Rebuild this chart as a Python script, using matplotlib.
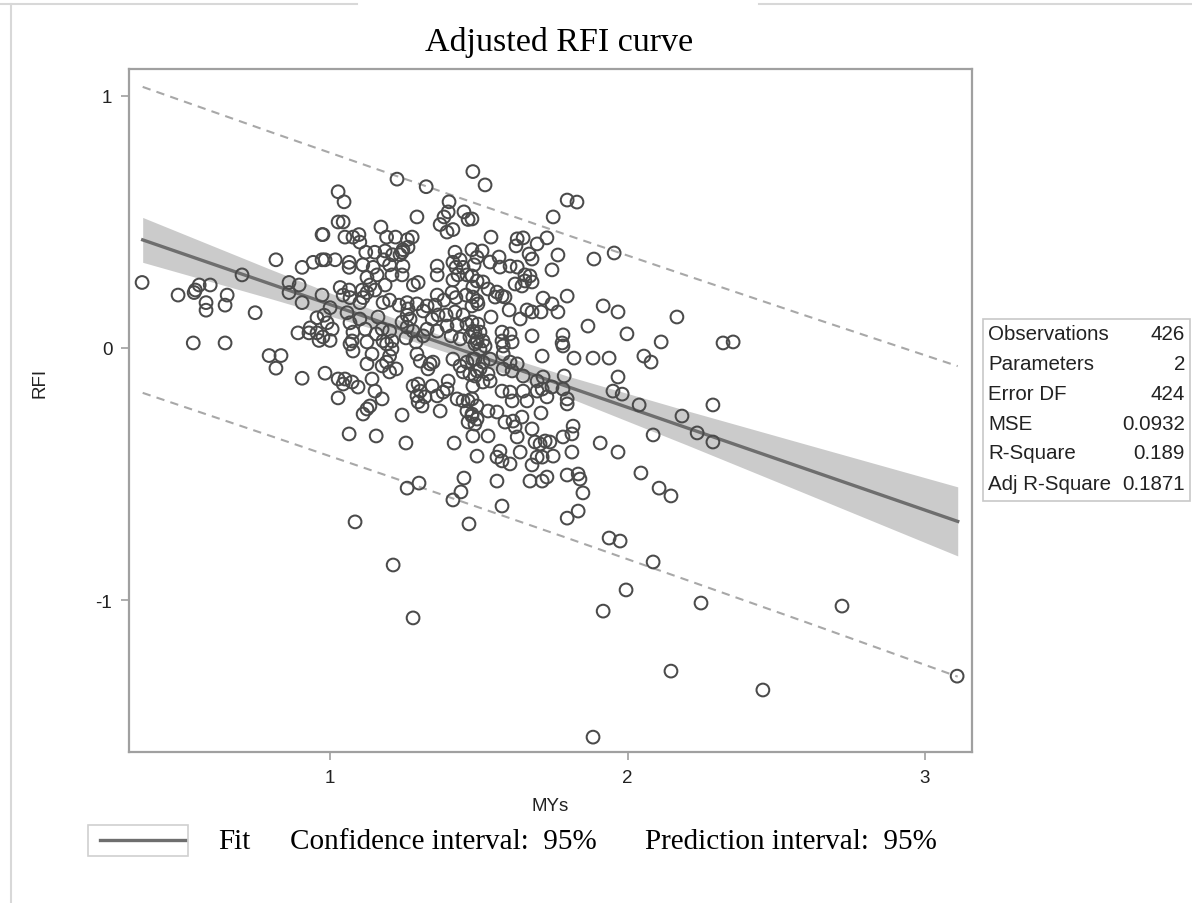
import matplotlib
matplotlib.use("Agg")
import matplotlib.pyplot as plt
from matplotlib.patches import Rectangle
from matplotlib.lines import Line2D

# --------- data ---------
mys = [0.368, 0.489, 0.543, 0.56, 0.547, 0.597, 0.583, 0.583, 0.654, 0.647, 0.704, 0.748, 0.54, 0.647, 0.818,
       0.795, 0.835, 0.818, 0.862, 0.896, 0.862, 0.906, 0.943, 0.973, 0.973, 0.906, 0.973, 0.956, 0.98, 0.892,
       0.929, 0.956, 0.963, 0.933, 0.906, 0.983,
       1.225, 1.323, 1.48, 1.027, 1.047, 1.027, 1.044, 0.976, 1.171, 1.292, 1.40, 1.397, 1.383, 1.37, 1.393,
       1.413, 1.45, 1.464, 1.05, 1.077, 1.097, 1.10, 1.19, 1.22, 1.26, 1.276, 1.262, 1.245, 1.242, 0.983, 1.017,
       1.064, 1.064, 1.12, 1.15, 1.185, 1.21, 1.235, 1.11, 1.145, 1.18, 1.20, 1.245, 1.242, 1.124, 1.158, 1.208,
       1.28, 1.296, 1.36, 1.36, 1.42, 1.437, 1.413, 1.423, 1.447, 1.46, 1.43, 1.413, 1.477, 1.494, 1.484, 1.034,
       1.064, 1.044, 1.067, 1.108, 1.124, 1.111, 1.10, 1.134, 1.151, 1.185, 1.178, 1.20, 1.232, 1.259, 1.262,
       1.259, 1.292, 1.326, 1.313, 1.36, 1.383, 1.41, 1.423, 1.457, 1.353, 1.0, 0.99, 1.007, 0.976, 1.0, 1.057,
       1.067, 1.10, 1.118, 1.077, 1.074,
       1.161, 1.175, 1.155, 1.20, 1.178, 1.208, 1.242, 1.269, 1.259, 1.279, 1.255, 1.289, 1.313, 1.326, 1.343,
       1.363, 1.39, 1.42, 1.447, 1.393, 1.427, 1.46, 1.487, 1.36, 1.407, 1.437, 1.47, 1.494,
       1.067, 1.077, 1.124, 1.141, 1.124, 1.19, 1.208, 1.20, 1.19, 1.175, 1.222, 1.20, 1.027, 1.05, 1.044, 1.074,
       1.094, 1.027, 1.141, 1.151, 1.175, 1.124, 1.111, 1.134, 1.242, 1.292, 1.303, 1.336, 1.346, 1.329, 1.279,
       1.296, 1.303, 1.292, 1.296, 1.309, 1.319, 1.343, 1.36, 1.38, 1.37, 1.397, 1.393, 1.413, 1.437, 1.46, 1.48,
       1.447, 1.47, 1.494, 1.427, 1.447, 1.464, 1.477, 1.46, 1.477, 1.464, 1.494, 1.48, 1.494, 1.064, 1.155,
       1.255, 1.417, 1.259, 1.299, 1.45, 1.44, 1.413, 1.084, 1.467,
       1.521, 1.797, 1.83, 1.75, 1.477, 1.729, 1.541, 1.629, 1.649, 1.625, 1.696, 1.511, 1.568, 1.538, 1.571,
       1.605, 1.629, 1.669, 1.679, 1.766, 1.746, 1.887, 1.955, 1.477, 1.494, 1.514, 1.48, 1.655, 1.672, 1.655,
       1.679, 1.622, 1.645, 1.531, 1.561, 1.578, 1.555, 1.588, 1.48, 1.494, 1.477, 1.497, 1.716, 1.746, 1.766,
       1.709, 1.797, 1.662, 1.679, 1.639, 1.602, 1.541, 1.918, 1.968, 1.867, 1.998, 1.679, 1.783, 1.78, 1.477,
       1.497, 1.48, 1.504, 1.494, 1.514, 1.487, 1.521, 1.578, 1.605, 1.578, 1.612, 1.582,
       1.783, 1.82, 1.884, 1.938, 1.713, 1.968, 1.951, 1.982, 1.787, 1.797, 1.797, 1.783, 1.504, 1.487, 1.514,
       1.538, 1.504, 1.531, 1.487, 1.514, 1.538, 1.48, 1.582, 1.605, 1.629, 1.582, 1.612, 1.649, 1.696, 1.716,
       1.713, 1.729, 1.746, 1.696, 1.649, 1.662, 1.605, 1.578, 1.612, 1.494, 1.477, 1.487, 1.531, 1.561, 1.709,
       1.645, 1.588, 1.615, 1.622, 1.629, 1.531, 1.679, 1.689, 1.706, 1.723, 1.739, 1.75, 1.713, 1.696, 1.679,
       1.639, 1.783, 1.813, 1.817, 1.813, 1.908, 1.968, 1.561, 1.578, 1.605, 1.571, 1.672, 1.713, 1.729, 1.561,
       1.797, 1.834, 1.84, 1.85, 1.578, 1.797, 1.834, 1.938, 1.975,
       2.166, 2.113, 2.055, 2.079, 2.321, 2.355, 2.039, 2.183, 2.287, 2.234, 2.287, 2.086, 2.045, 2.106, 2.146,
       2.086, 1.995, 2.247, 2.721, 2.146, 2.455, 3.108,
       1.212, 1.279, 1.918, 1.884]

rfi = [0.26, 0.21, 0.22, 0.25, 0.23, 0.25, 0.18, 0.15, 0.21, 0.17, 0.29, 0.14, 0.02, 0.02, 0.35,
       -0.03, -0.03, -0.08, 0.26, 0.25, 0.22, 0.32, 0.34, 0.35, 0.45, 0.18, 0.21, 0.12, 0.13, 0.06,
       0.06, 0.06, 0.03, 0.08, -0.12, -0.10,
       0.67, 0.64, 0.70, 0.62, 0.58, 0.50, 0.50, 0.45, 0.48, 0.52, 0.58, 0.54, 0.52, 0.49, 0.46,
       0.47, 0.54, 0.51, 0.44, 0.44, 0.45, 0.42, 0.44, 0.44, 0.43, 0.44, 0.40, 0.39, 0.38, 0.35, 0.35,
       0.34, 0.32, 0.38, 0.38, 0.385, 0.37, 0.37, 0.33, 0.32, 0.35, 0.33, 0.325, 0.29, 0.28, 0.29, 0.29,
       0.25, 0.26, 0.325, 0.29, 0.38, 0.35, 0.34, 0.32, 0.32, 0.29, 0.29, 0.27, 0.39, 0.36, 0.33, 0.24,
       0.23, 0.21, 0.20, 0.23, 0.22, 0.20, 0.18, 0.25, 0.23, 0.25, 0.18, 0.19, 0.17, 0.18, 0.155,
       0.13, 0.175, 0.167, 0.147, 0.21, 0.19, 0.22, 0.20, 0.21, 0.17, 0.16, 0.10, 0.075, 0.044, 0.03, 0.14,
       0.10, 0.115, 0.075, 0.063, 0.028,
       0.123, 0.075, 0.056, 0.067, 0.028, 0.028, 0.103, 0.115, 0.083, 0.067, 0.040, 0.024, 0.048, 0.075, 0.115,
       0.131, 0.131, 0.143, 0.131, 0.087, 0.091, 0.095, 0.063, 0.067, 0.048, 0.036, 0.044, 0.024,
       0.016, -0.012, 0.024, -0.024, -0.063, 0.016, -0.004, -0.032, -0.056, -0.071, -0.083, -0.095, -0.123, -0.123, -0.143, -0.135,
       -0.155, -0.198, -0.123, -0.171, -0.202, -0.242, -0.262, -0.23, -0.266, -0.024, -0.052, -0.063, -0.056, -0.083, -0.151,
       -0.143, -0.171, -0.19, -0.214, -0.23, -0.194, -0.151, -0.19, -0.175, -0.25, -0.131, -0.163, -0.044, -0.071, -0.056, -0.044,
       -0.095, -0.103, -0.091, -0.202, -0.21, -0.21, -0.202, -0.25, -0.27, -0.294, -0.282, -0.349, -0.429, -0.341, -0.349,
       -0.377, -0.377, -0.556, -0.536, -0.516, -0.571, -0.603, -0.69, -0.698,
       0.647, 0.587, 0.579, 0.52, 0.512, 0.437, 0.44, 0.433, 0.437, 0.405, 0.413, 0.385, 0.361, 0.341, 0.321,
       0.325, 0.321, 0.373, 0.353, 0.369, 0.31, 0.353, 0.377, 0.286, 0.266, 0.262, 0.242, 0.29, 0.286, 0.266,
       0.262, 0.254, 0.246, 0.234, 0.222, 0.206, 0.202, 0.202, 0.202, 0.187, 0.167, 0.175, 0.198, 0.175, 0.143,
       0.143, 0.206, 0.151, 0.143, 0.115, 0.151, 0.123, 0.167, 0.143, 0.087, 0.056, 0.048, 0.052, 0.020, 0.103,
       0.095, 0.067, 0.063, 0.036, 0.028, 0.016, 0.008, 0.063, 0.056, 0.028, 0.024, 0.008,
       0.008, -0.04, -0.04, -0.04, -0.032, -0.115, -0.171, -0.183, -0.111, -0.202, -0.222, -0.163, -0.004, -0.044, -0.056,
       -0.044, -0.083, -0.103, -0.111, -0.135, -0.131, -0.151, -0.024, -0.056, -0.063, -0.083, -0.091, -0.111, -0.131, -0.115,
       -0.163, -0.194, -0.155, -0.171, -0.171, -0.21, -0.175, -0.171, -0.21, -0.23, -0.262, -0.302, -0.25, -0.254, -0.258,
       -0.274, -0.294, -0.29, -0.313, -0.353, -0.349, -0.321, -0.373, -0.381, -0.369, -0.373, -0.429, -0.433, -0.433, -0.464,
       -0.413, -0.353, -0.341, -0.31, -0.413, -0.377, -0.413, -0.433, -0.448, -0.46, -0.409, -0.528, -0.528, -0.512, -0.528,
       -0.504, -0.5, -0.52, -0.575, -0.627, -0.675, -0.647, -0.754, -0.766,
       0.123, 0.024, -0.032, -0.056, 0.02, 0.024, -0.226, -0.27, -0.226, -0.337, -0.373, -0.345, -0.496, -0.556, -0.587,
       -0.849, -0.96, -1.012, -1.024, -1.282, -1.357, -1.302,
       -0.861, -1.071, -1.044, -1.544]

# fit line and bands, read at a few MYs positions
band_x = [0.37, 0.8, 1.2, 1.43, 1.8, 2.2, 2.6, 3.11]
fit_y = [0.429, 0.254, 0.091, -0.003, -0.154, -0.317, -0.480, -0.688]
ci_hi = [0.518, 0.312, 0.125, 0.026, -0.112, -0.249, -0.382, -0.551]
ci_lo = [0.340, 0.196, 0.057, -0.032, -0.196, -0.385, -0.578, -0.825]
pi_hi = [1.036, 0.857, 0.692, 0.598, 0.447, 0.287, 0.128, -0.072]
pi_lo = [-0.178, -0.349, -0.510, -0.604, -0.755, -0.921, -1.088, -1.304]

stat_names = ["Observations", "Parameters", "Error DF", "MSE", "R-Square", "Adj R-Square"]
stat_values = ["426", "2", "424", "0.0932", "0.189", "0.1871"]

# --------- figure ---------
W, H = 1192, 904
fig = plt.figure(figsize=(W / 100, H / 100), dpi=100)
sans = ["Liberation Sans", "DejaVu Sans"]
serif = ["Liberation Serif", "DejaVu Serif"]

def fx(px):
    return px / W

def fy(py):
    return 1 - py / H

ax = fig.add_axes([fx(129), fy(753), fx(972) - fx(129), fy(70) - fy(753)])

ax.fill_between(band_x, ci_lo, ci_hi, color="#cbcbcb", lw=0, zorder=1)
ax.plot(band_x, fit_y, color="#6e6e6e", lw=2.4, zorder=2)
ax.plot(band_x, pi_hi, color="#a8a8a8", lw=1.5, ls=(0, (4, 3)), zorder=2)
ax.plot(band_x, pi_lo, color="#a8a8a8", lw=1.5, ls=(0, (4, 3)), zorder=2)
ax.scatter(mys, rfi, s=84, facecolors="none", edgecolors="#4a4a4a", linewidths=1.45, zorder=3)

ax.set_xlim(0.324, 3.158)
ax.set_ylim(-1.603, 1.107)
ax.set_xticks([1, 2, 3])
ax.set_yticks([1, 0, -1])
ax.set_xticklabels(["1", "2", "3"], family=sans, fontsize=13.5)
ax.set_yticklabels(["1", "0", "-1"], family=sans, fontsize=13.5)
ax.tick_params(direction="out", length=6, width=1.2, color="#a0a0a0", labelcolor="#222222", pad=6)
for sp in ax.spines.values():
    sp.set_color("#a0a0a0")
    sp.set_linewidth(1.6)

fig.text(fx(550), fy(807), "MYs", family=sans, fontsize=13.5, ha="center", va="center", color="#222222")
fig.text(fx(40), fy(383), "RFI", family=sans, fontsize=13.5, rotation=90, ha="center", va="center", color="#222222")
fig.text(fx(559), fy(42), "Adjusted RFI curve", family=serif, fontsize=24.5, ha="center", va="center")

# --------- stats box ---------
fig.patches.append(Rectangle((fx(983), fy(502)), fx(1190) - fx(983), fy(320) - fy(502),
                             transform=fig.transFigure, fill=False, ec="#c8c8c8", lw=1.2))
for i, (nm, val) in enumerate(zip(stat_names, stat_values)):
    yy = fy(334 + 30 * i)
    fig.text(fx(988), yy, nm, family=sans, fontsize=14.8, ha="left", va="center", color="#222222")
    fig.text(fx(1185), yy, val, family=sans, fontsize=14.8, ha="right", va="center", color="#222222")

# --------- bottom legend ---------
fig.patches.append(Rectangle((fx(88), fy(857)), fx(188) - fx(88), fy(826) - fy(857),
                             transform=fig.transFigure, fill=False, ec="#d0d0d0", lw=1.2))
fig.lines.append(Line2D([fx(100), fx(185)], [fy(841), fy(841)], transform=fig.transFigure,
                        color="#6e6e6e", lw=2.4))
fig.text(fx(218), fy(842), "Fit", family=serif, fontsize=21, ha="left", va="center")
fig.text(fx(290), fy(842), "Confidence interval:  95%", family=serif, fontsize=21, ha="left", va="center")
fig.text(fx(645), fy(842), "Prediction interval:  95%", family=serif, fontsize=21, ha="left", va="center")

# outer frame pieces
frame = "#d8d8d8"
fig.lines.append(Line2D([fx(11), fx(11)], [fy(5), fy(904)], transform=fig.transFigure, color=frame, lw=1.5))
fig.lines.append(Line2D([fx(0), fx(357)], [fy(5), fy(5)], transform=fig.transFigure, color=frame, lw=1.5))
fig.lines.append(Line2D([fx(759), fx(1192)], [fy(5), fy(5)], transform=fig.transFigure, color=frame, lw=1.5))

fig.savefig("out.png", dpi=100)
